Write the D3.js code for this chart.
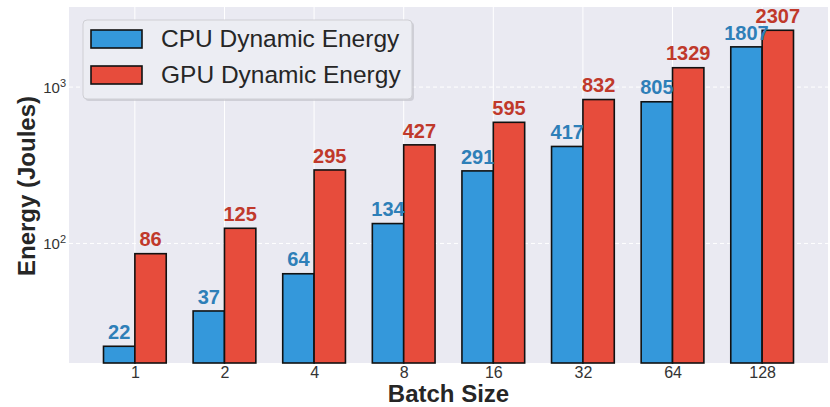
<!DOCTYPE html>
<html>
<head>
<meta charset="utf-8">
<script src="https://cdn.jsdelivr.net/npm/d3@7"></script>
<style>
  html, body { margin: 0; padding: 0; background: #ffffff; }
  svg { display: block; font-family: "Liberation Sans", Arial, sans-serif; }
</style>
</head>
<body>
<svg id="chart" width="830" height="407"></svg>
<script>
const categories = ["1", "2", "4", "8", "16", "32", "64", "128"];
const cpuEnergy = [22, 37, 64, 134, 291, 417, 805, 1807];
const gpuEnergy = [86, 125, 295, 427, 595, 832, 1329, 2307];
const seriesNames = ["CPU Dynamic Energy", "GPU Dynamic Energy"];
const yTicks = [100, 1000];
const yDomain = [17.2, 3250];

const colors = { cpu: "#3498db", gpu: "#e74c3c", cpuText: "#2e7fb8", gpuText: "#c0392b" };

const svg = d3.select("#chart");
const plot = { left: 69, right: 828, top: 7, bottom: 363 };

const x = d3.scaleLinear()
  .domain([-0.735, categories.length - 1 + 0.735])
  .range([plot.left, plot.right]);
const barW = x(0.35) - x(0);

const y = d3.scaleLog().domain(yDomain).range([plot.bottom, plot.top]);

// background
svg.append("rect")
  .attr("x", plot.left).attr("y", plot.top)
  .attr("width", plot.right - plot.left).attr("height", plot.bottom - plot.top)
  .attr("fill", "#eaeaf2");

// vertical grid
svg.append("g").selectAll("line").data(categories).join("line")
  .attr("x1", (d, i) => x(i)).attr("x2", (d, i) => x(i))
  .attr("y1", plot.top).attr("y2", plot.bottom)
  .attr("stroke", "#ffffff").attr("stroke-width", 1);

// horizontal grid (dashed)
svg.append("g").selectAll("line").data(yTicks).join("line")
  .attr("x1", plot.left).attr("x2", plot.right)
  .attr("y1", d => y(d)).attr("y2", d => y(d))
  .attr("stroke", "#ffffff").attr("stroke-width", 1)
  .attr("stroke-dasharray", "4,3");

// bars
const rows = categories.map((c, i) => ({ i, cpu: cpuEnergy[i], gpu: gpuEnergy[i] }));
const gBars = svg.append("g");
gBars.selectAll("rect.cpu").data(rows).join("rect")
  .attr("class", "cpu")
  .attr("x", d => x(d.i) - barW).attr("width", barW)
  .attr("y", d => y(d.cpu)).attr("height", d => plot.bottom - y(d.cpu))
  .attr("fill", colors.cpu).attr("stroke", "#111").attr("stroke-width", 1.6);
gBars.selectAll("rect.gpu").data(rows).join("rect")
  .attr("class", "gpu")
  .attr("x", d => x(d.i)).attr("width", barW)
  .attr("y", d => y(d.gpu)).attr("height", d => plot.bottom - y(d.gpu))
  .attr("fill", colors.gpu).attr("stroke", "#111").attr("stroke-width", 1.6);

// value labels
const gLab = svg.append("g").attr("font-weight", "bold").attr("font-size", 20).attr("text-anchor", "middle");
gLab.selectAll("text.cpu").data(rows).join("text")
  .attr("x", d => x(d.i) - barW / 2).attr("y", d => y(d.cpu * 1.05) - 4)
  .attr("fill", colors.cpuText).text(d => d.cpu);
gLab.selectAll("text.gpu").data(rows).join("text")
  .attr("x", d => x(d.i) + barW / 2).attr("y", d => y(d.gpu * 1.05) - 4)
  .attr("fill", colors.gpuText).text(d => d.gpu);

// x axis tick labels
const xAxis = d3.axisBottom(x).tickValues(d3.range(categories.length))
  .tickFormat(i => categories[i]).tickSize(0).tickPadding(4);
const gx = svg.append("g").attr("transform", `translate(0,${plot.bottom})`).call(xAxis);
gx.select(".domain").remove();
gx.selectAll("text").attr("font-size", 16).attr("fill", "#333")
  .attr("font-family", "'Liberation Sans', Arial, sans-serif");

// y axis tick labels
const yAxis = d3.axisLeft(y).tickValues(yTicks).tickSize(0).tickPadding(0).tickFormat("");
const gy = svg.append("g").attr("transform", `translate(${plot.left},0)`).call(yAxis);
gy.select(".domain").remove();
gy.selectAll(".tick").each(function(d) {
  const t = d3.select(this).append("text")
    .attr("x", -3).attr("y", 5).attr("text-anchor", "end")
    .attr("fill", "#333").attr("font-size", 15);
  t.append("tspan").text("10");
  t.append("tspan").attr("dy", -6).attr("font-size", 11).text(String(Math.round(Math.log10(d))));
});

// axis titles
svg.append("text").attr("x", (plot.left + plot.right) / 2).attr("y", 402)
  .attr("text-anchor", "middle").attr("font-size", 24).attr("font-weight", "bold")
  .attr("fill", "#262626").text("Batch Size");
svg.append("text").attr("transform", "translate(35,186) rotate(-90)")
  .attr("text-anchor", "middle").attr("font-size", 24).attr("font-weight", "bold")
  .attr("fill", "#262626").text("Energy (Joules)");

// legend
const lg = svg.append("g");
lg.append("rect").attr("x", 85).attr("y", 22).attr("width", 329).attr("height", 79)
  .attr("rx", 4).attr("fill", "#bdbdc4").attr("opacity", 0.6);
lg.append("rect").attr("x", 83).attr("y", 20).attr("width", 329).attr("height", 79)
  .attr("rx", 4).attr("fill", "#ecedf3").attr("stroke", "#cfcfd4").attr("stroke-width", 1);
const legendItems = [
  { name: seriesNames[0], color: colors.cpu },
  { name: seriesNames[1], color: colors.gpu }
];
legendItems.forEach((it, k) => {
  const yy = 30 + k * 36;
  lg.append("rect").attr("x", 91).attr("y", yy).attr("width", 51).attr("height", 18)
    .attr("fill", it.color).attr("stroke", "#111").attr("stroke-width", 1.6);
  lg.append("text").attr("x", 161).attr("y", yy + 17)
    .attr("font-size", 24.5).attr("fill", "#262626").text(it.name);
});
</script>
</body>
</html>
